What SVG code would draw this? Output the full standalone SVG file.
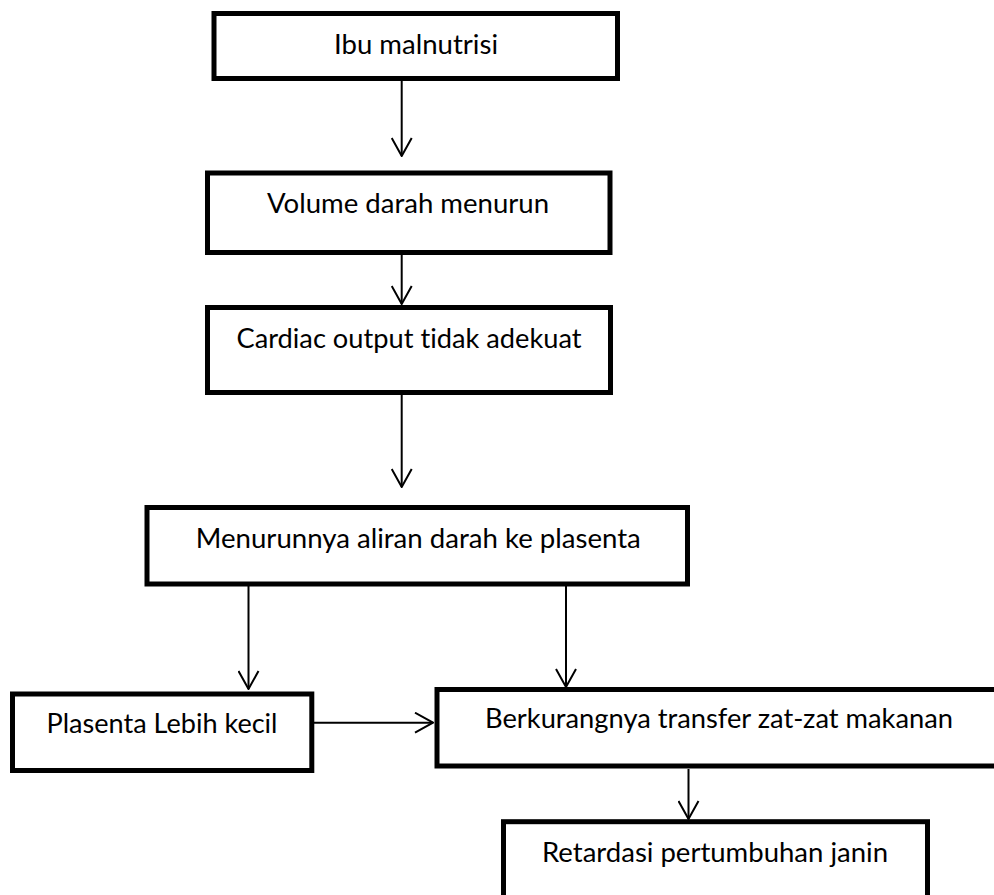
<svg xmlns="http://www.w3.org/2000/svg" width="994" height="895" viewBox="0 0 994 895">
<defs>
<style>
.box{fill:#fff;stroke:#000;stroke-width:5}
.lbl{font-family:Lato,"Open Sans","Liberation Sans",sans-serif;font-size:26px;fill:#000;text-anchor:middle;font-variant-ligatures:none;font-feature-settings:"liga" 0,"clig" 0}
.con{stroke:#000;stroke-width:2;fill:none}
</style>
<marker id="arr" viewBox="0 0 20 22" refX="19" refY="11" markerWidth="20" markerHeight="22" markerUnits="userSpaceOnUse" orient="auto">
<path d="M1,1 L19,11 L1,21" fill="none" stroke="#000" stroke-width="2"/>
</marker>
</defs>
<rect width="994" height="895" fill="#fff"/>
<g id="connectors">
<line class="con" x1="401.7" y1="81" x2="401.7" y2="156" marker-end="url(#arr)"/>
<line class="con" x1="401.7" y1="255" x2="401.7" y2="304" marker-end="url(#arr)"/>
<line class="con" x1="401.7" y1="395" x2="401.7" y2="487" marker-end="url(#arr)"/>
<line class="con" x1="248.5" y1="586" x2="248.5" y2="689" marker-end="url(#arr)"/>
<line class="con" x1="566" y1="586" x2="566" y2="687" marker-end="url(#arr)"/>
<line class="con" x1="314" y1="722.7" x2="433" y2="722.7" marker-end="url(#arr)"/>
<line class="con" x1="688.5" y1="769" x2="688.5" y2="819" marker-end="url(#arr)"/>
</g>
<g id="n1"><rect class="box" x="214" y="13.5" width="403.5" height="65"/><text class="lbl" x="416" y="53.5" textLength="164" lengthAdjust="spacingAndGlyphs">Ibu malnutrisi</text></g>
<g id="n2"><rect class="box" x="207.5" y="173" width="402.5" height="79.5"/><text class="lbl" x="408" y="213" textLength="282" lengthAdjust="spacingAndGlyphs">Volume darah menurun</text></g>
<g id="n3"><rect class="box" x="207.5" y="307.5" width="403" height="85"/><text class="lbl" x="409" y="348" textLength="345" lengthAdjust="spacingAndGlyphs">Cardiac output tidak adekuat</text></g>
<g id="n4"><rect class="box" x="147" y="507.5" width="540.5" height="76.5"/><text class="lbl" x="418.3" y="548" textLength="445" lengthAdjust="spacingAndGlyphs">Menurunnya aliran darah ke plasenta</text></g>
<g id="n5"><rect class="box" x="12.5" y="694" width="299.3" height="76.5"/><text class="lbl" x="162" y="733" textLength="231" lengthAdjust="spacingAndGlyphs">Plasenta Lebih kecil</text></g>
<g id="n6"><rect class="box" x="437" y="689.5" width="580" height="76.5"/><text class="lbl" x="719" y="728" textLength="468" lengthAdjust="spacingAndGlyphs">Berkurangnya transfer zat-zat makanan</text></g>
<g id="n7"><rect class="box" x="503.5" y="821.7" width="424" height="90"/><text class="lbl" x="715" y="861.7" textLength="346" lengthAdjust="spacingAndGlyphs">Retardasi pertumbuhan janin</text></g>
</svg>
